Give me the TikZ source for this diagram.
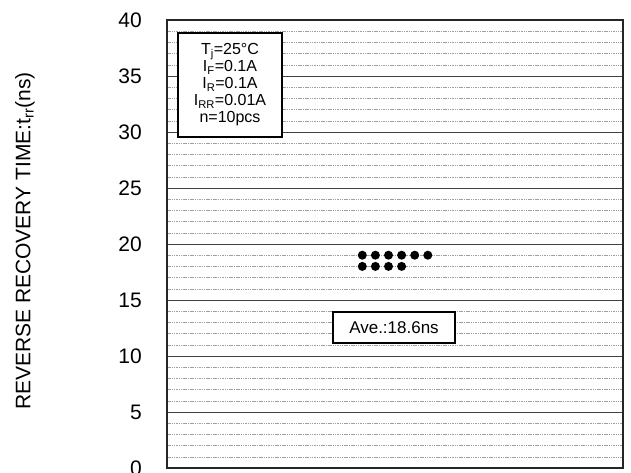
\documentclass[tikz,border=0pt]{standalone}
\usepackage{fontspec}
\setmainfont{Liberation Sans}
\usepackage{tikz}
\usetikzlibrary{positioning}
\tikzset{minorline/.style={gray!75,line width=0.5pt,dash pattern=on 1.5pt off 0.8pt}}
\tikzset{majorline/.style={black!75,line width=0.8pt}}
\tikzset{frameline/.style={black!85,line width=1.4pt}}
\tikzset{infobox/.style={draw=black,line width=1.3pt,fill=white,align=center,inner sep=0pt}}
\tikzset{sample/.style={circle,fill=black,inner sep=0pt,minimum size=9pt}}

\begin{document}
\begin{tikzpicture}[x=1pt,y=1pt]
  \useasboundingbox (0,0) rectangle (631,473);

  \begin{scope}[shift={(167,5)},y=11.2pt]
    \foreach \v in {1,...,39}{ % fine grid
      \draw[minorline] (0,\v) -- (456,\v);
    }
    \foreach \v in {5,10,...,35}{ % coarse grid
      \draw[majorline] (0,\v) -- (456,\v);
    }
    \foreach \v in {0,5,...,40}{
      \node[anchor=east,font=\fontsize{21}{21}\selectfont,inner sep=0pt] (tick\v) at (-25,\v) {\v};
    }
    \draw[frameline] (0,0) rectangle (456,40);

    % measured samples
    \foreach \k in {0,...,5}{
      \node[sample] (hi\k) at (195.3+13.1*\k,19) {};
    }
    \foreach \k in {0,...,3}{
      \node[sample] (lo\k) at (195.3+13.1*\k,18) {};
    }
  \end{scope}

  \node[infobox,minimum width=104pt,minimum height=104pt,
        font=\fontsize{16}{17}\selectfont] (cond) at (230,388)
    {T\textsubscript{j}=25°C\\I\textsubscript{F}=0.1A\\I\textsubscript{R}=0.1A\\
     I\textsubscript{RR}=0.01A\\n=10pcs};

  \node[infobox,minimum width=122pt,minimum height=31pt,
        font=\fontsize{17}{17}\selectfont] (avg) at (394,145.5) {Ave.:18.6ns};

  \node[rotate=90,font=\fontsize{21}{21}\selectfont] (ylabel) at (25,232)
    {REVERSE RECOVERY TIME:t\textsubscript{rr}(ns)};
\end{tikzpicture}
\end{document}
